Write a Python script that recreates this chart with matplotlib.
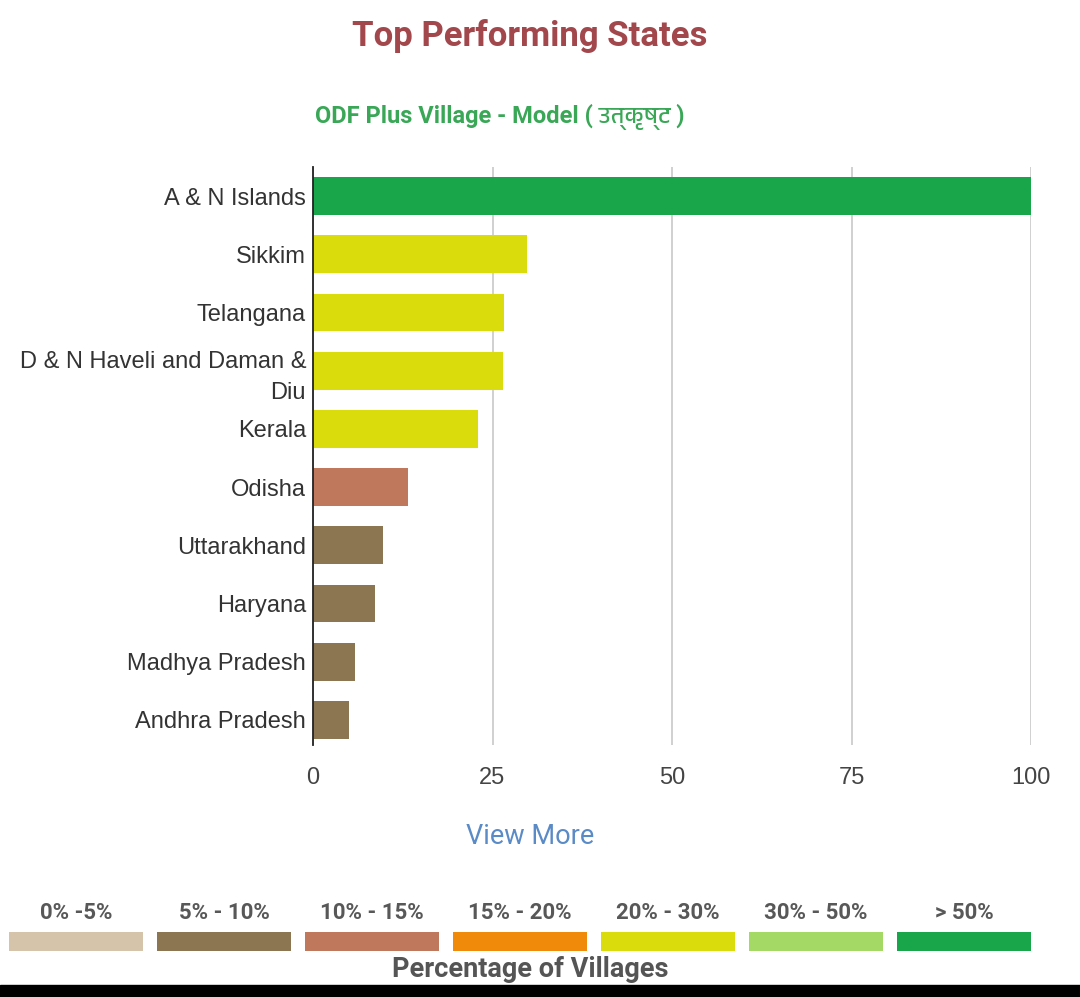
import numpy as np
import matplotlib.pyplot as plt
from matplotlib import font_manager
from matplotlib.patches import Rectangle

# data
states = ['A & N Islands', 'Sikkim', 'Telangana', 'D & N Haveli and Daman &\nDiu',
          'Kerala', 'Odisha', 'Uttarakhand', 'Haryana', 'Madhya Pradesh', 'Andhra Pradesh']
percent = [100, 29.8, 26.6, 26.5, 23.0, 13.2, 9.8, 8.6, 5.8, 5.0]

bin_labels = ['0% -5%', '5% - 10%', '10% - 15%', '15% - 20%', '20% - 30%', '30% - 50%', '> 50%']
bin_edges = [5, 10, 15, 20, 30, 50]
bin_colors = ['#d5c4aa', '#8b7651', '#c0785c', '#f08a0b', '#dbdc0b', '#a3d964', '#19a54a']
x_ticks = [0, 25, 50, 75, 100]

# font with Devanagari if one is around
deva = [f.name for f in font_manager.fontManager.ttflist
        if any(k in f.name for k in ('Devanagari', 'Lohit', 'Mangal', 'Gargi', 'Kalimati'))]
title_fonts = ['Roboto'] + deva[:1] + ['DejaVu Sans']
label_font = ['Liberation Sans', 'DejaVu Sans']

fig = plt.figure(figsize=(10.8, 9.97), dpi=100)
W, H = 1080, 997

ax = fig.add_axes([313 / W, 1 - 745 / H, 718 / W, 578 / H])
colors = [bin_colors[i] for i in np.digitize(percent, bin_edges)]
y = np.arange(len(states))
ax.barh(y, percent, height=0.65, color=colors, zorder=2)
ax.set_xlim(0, 100)
ax.set_ylim(len(states) - 0.57, -0.5)
ax.set_yticks(y)
ax.set_yticklabels(states, fontsize=17, color='#333333', family=label_font,
                   linespacing=1.5)
ax.set_xticks(x_ticks)
ax.set_xticklabels([str(t) for t in x_ticks], fontsize=17, color='#444444', family=label_font)
ax.tick_params(axis='both', length=0)
ax.tick_params(axis='y', pad=5)
ax.tick_params(axis='x', pad=16)
ax.grid(axis='x', color='#c8c8c8', linewidth=1.2, zorder=0)
for s in ['top', 'right', 'bottom']:
    ax.spines[s].set_visible(False)
ax.spines['left'].set_color('#222222')
ax.spines['left'].set_linewidth(1.3)
ax.spines['left'].set_zorder(3)

fig.text(530 / W, 1 - 36 / H, 'Top Performing States', ha='center', va='center',
         fontsize=25, fontweight='bold', color='#a2474c', family=title_fonts)
fig.text(500 / W, 1 - 117 / H, 'ODF Plus Village - Model ( उत्कृष्ट )', ha='center', va='center',
         fontsize=17, fontweight='bold', color='#3aa757', family=title_fonts)
fig.text(530 / W, 1 - 837 / H, 'View More', ha='center', va='center',
         fontsize=19.5, color='#5b8bc6', family=title_fonts)

# colour scale legend
lax = fig.add_axes([2 / W, 1 - 951 / H, 1036 / W, 19 / H])
pos = np.arange(len(bin_labels)) + 0.5
lax.bar(pos, [1] * len(bin_labels), width=0.912, color=bin_colors)
lax.set_xlim(0, len(bin_labels))
lax.set_ylim(0, 1)
lax.axis('off')
for p, lab in zip(pos, bin_labels):
    lax.text(p, 2.0, lab, ha='center', va='center', fontsize=16, fontweight='bold',
             color='#585858', family=title_fonts)
fig.text(530 / W, 1 - 969 / H, 'Percentage of Villages', ha='center', va='center',
         fontsize=19.5, fontweight='bold', color='#555555', family=title_fonts)

# dark strip along the bottom of the screenshot
fig.patches.append(Rectangle((0, 0), 1, 12 / H, transform=fig.transFigure,
                             color='black', zorder=10))

fig.savefig('out.png', dpi=100)
